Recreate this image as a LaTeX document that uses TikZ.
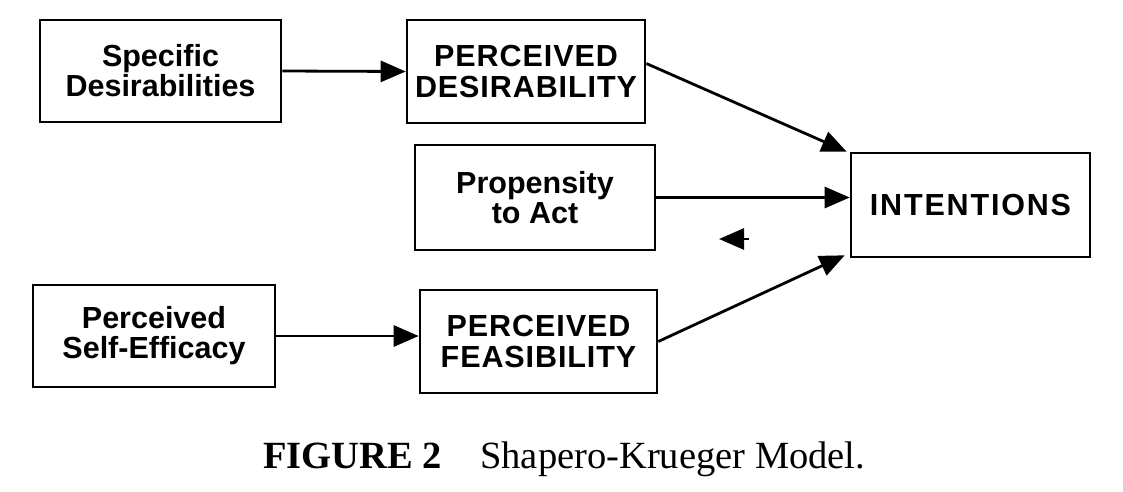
\documentclass[tikz,border=0pt]{standalone}
\usepackage{fontspec}
\setmainfont{Liberation Serif}
\newfontfamily\helv{Liberation Sans}
\newfontfamily\helvcaps[LetterSpace=3]{Liberation Sans}
\newfontfamily\helvwide[LetterSpace=6]{Liberation Sans}
\usetikzlibrary{arrows.meta}
\begin{document}
\begin{tikzpicture}[x=1pt,y=-1pt,
  box/.style={draw=black,line width=2.6pt,rectangle,inner sep=0pt,align=center,
    font=\helv\bfseries\fontsize{30.5}{30}\selectfont},
  capbox/.style={box,font=\helvcaps\bfseries\fontsize{30.5}{31}\selectfont},
  widebox/.style={box,font=\helvwide\bfseries\fontsize{30.5}{31}\selectfont},
  arr/.style={line width=2.8pt,-{Triangle[length=25pt,width=21pt]}}]
\useasboundingbox (0,0) rectangle (1123,491);
\node[box,minimum width=241pt,minimum height=102pt] (A) at (160.5,71) {Specific\\Desirabilities};
\node[capbox,minimum width=238pt,minimum height=103pt] (B) at (526,71.5) {PERCEIVED\\DESIRABILITY};
\node[box,minimum width=240pt,minimum height=105pt] (C) at (535,197.5) {Propensity\\to Act};
\node[widebox,minimum width=239pt,minimum height=104pt] (D) at (970.5,205) {INTENTIONS};
\node[box,minimum width=242pt,minimum height=102pt] (E) at (154,336) {Perceived\\Self-Efficacy};
\node[capbox,minimum width=237pt,minimum height=103pt] (F) at (538.5,341.5) {PERCEIVED\\FEASIBILITY};
\draw[arr] (A.east) -- (B.west);
\draw[arr] ([yshift=8pt]B.east) -- ([xshift=-3pt]D.north west);
\draw[arr] (C.east) -- (C.east -| D.west);
\draw[arr] (F.east) -- ([xshift=-5pt,yshift=3pt]D.south west);
\draw[arr] (E.east) -- (E.east -| F.west);
\coordinate (s1) at (749,239);
\coordinate (s2) at (719,239);
\draw[arr] (s1) -- (s2);
\node[inner sep=0pt,anchor=base west,font=\fontsize{38.5}{40}\selectfont] (cap) at (263,468)
  {\textbf{FIGURE 2}\quad Shapero-Krueger Model.};
\end{tikzpicture}
\end{document}
